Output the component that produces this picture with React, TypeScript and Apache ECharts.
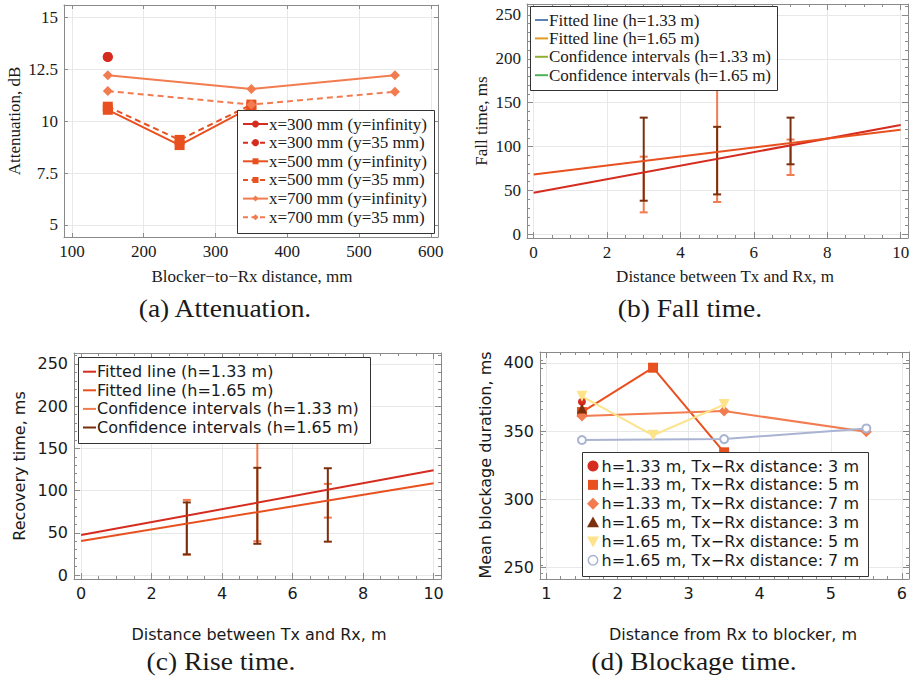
import React, { useEffect, useRef } from "react";
import * as echarts from "echarts";

// ---------- (a) Attenuation vs. blocker-to-Rx distance ----------
const attDist300 = [150];
const att300Inf = [13.1];
const att300Y35 = [13.1];
const attDist500 = [150, 250, 350];
const att500Inf = [10.55, 8.85, 10.68];
const att500Y35 = [10.7, 9.1, 10.8];
const attDist700 = [150, 350, 550];
const att700Inf = [12.22, 11.55, 12.22];
const att700Y35 = [11.45, 10.8, 11.42];
const attXTicks = [100, 200, 300, 400, 500, 600];
const attYTicks = [5, 7.5, 10, 12.5, 15];
const attLegend = [
  "x=300 mm (y=infinity)",
  "x=300 mm (y=35 mm)",
  "x=500 mm (y=infinity)",
  "x=500 mm (y=35 mm)",
  "x=700 mm (y=infinity)",
  "x=700 mm (y=35 mm)",
];

// ---------- (b) Fall time, (c) Rise time ----------
const fitDist = [0, 10];
const fall133 = [47.4, 124.5];
const fall165 = [68.3, 119.3];
const ciDist = [3, 5, 7];
const fallLo133 = [25, 36.8, 67.6];
const fallHi133 = [88.5, 200, 108];
const fallLo165 = [38.3, 45.5, 79.8];
const fallHi165 = [133, 122.5, 133];

const rise133 = [47.4, 124];
const rise165 = [40.3, 108.7];
const riseLo133 = [24, 40, 68];
const riseHi133 = [89, 200, 108];
const riseLo165 = [24.5, 37, 39.5];
const riseHi165 = [86, 127, 126.5];

const distTicks = [0, 2, 4, 6, 8, 10];
const timeTicks = [0, 50, 100, 150, 200, 250];
const timeLegend = [
  "Fitted line (h=1.33 m)",
  "Fitted line (h=1.65 m)",
  "Confidence intervals (h=1.33 m)",
  "Confidence intervals (h=1.65 m)",
];

// ---------- (d) Mean blockage duration ----------
const blk133d3X = [1.5];
const blk133d3 = [371.5];
const blk133d5X = [1.5, 2.5, 3.5];
const blk133d5 = [364, 396.5, 334.5];
const blk133d7X = [1.5, 3.5, 5.5];
const blk133d7 = [361.2, 364.7, 349.5];
const blk165d3X = [1.5];
const blk165d3 = [366.6];
const blk165d5X = [1.5, 2.5, 3.5];
const blk165d5 = [375.5, 347, 369.5];
const blk165d7X = [1.5, 3.5, 5.5];
const blk165d7 = [343.5, 344.2, 352];
const blkXTicks = [1, 2, 3, 4, 5, 6];
const blkYTicks = [250, 300, 350, 400];
const blkLegend = [
  "h=1.33 m, Tx\u2212Rx distance: 3 m",
  "h=1.33 m, Tx\u2212Rx distance: 5 m",
  "h=1.33 m, Tx\u2212Rx distance: 7 m",
  "h=1.65 m, Tx\u2212Rx distance: 3 m",
  "h=1.65 m, Tx\u2212Rx distance: 5 m",
  "h=1.65 m, Tx\u2212Rx distance: 7 m",
];

// ---------- titles ----------
const xTitles = [
  "Blocker\u2212to\u2212Rx distance, mm",
  "Distance between Tx and Rx, m",
  "Distance between Tx and Rx, m",
  "Distance from Rx to blocker, m",
];
const yTitles = ["Attenuation, dB", "Fall time, ms", "Recovery time, ms", "Mean blockage duration, ms"];
const captions = ["(a) Attenuation.", "(b) Fall time.", "(c) Rise time.", "(d) Blockage time."];

// ---------- styling ----------
const RED = "#d52c1f";
const ORANGE = "#e9501f";
const SALMON = "#f27b50";
const BROWN = "#7b2f0c";
const YELLOW = "#fde38a";
const GRAYBLUE = "#aab4d2";
const FRAME = "#8a8a8a";
const GRIDLINE = "#e8e8e8";
const TEXT = "#1a1a1a";
const SERIF = '"Liberation Serif", "Times New Roman", serif';
const SANS = '"DejaVu Sans", sans-serif';

type Box = { left: number; top: number; width: number; height: number };
const grids: Box[] = [
  { left: 64, top: 5, width: 374, height: 232 },
  { left: 527, top: 4, width: 381, height: 234 },
  { left: 74, top: 353, width: 367, height: 226 },
  { left: 540, top: 352, width: 369, height: 227 },
];

function axes(
  dim: "x" | "y",
  grid: number,
  min: number,
  max: number,
  ticks: number[],
  minor: number,
  font: string,
  size: number,
  tickLen: number
) {
  const common: any = {
    type: "value",
    gridIndex: grid,
    min,
    max,
    axisLine: { show: true, onZero: false, lineStyle: { color: FRAME, width: 1 } },
    axisTick: { show: true, inside: true, length: tickLen, customValues: ticks, lineStyle: { color: FRAME } },
    minorTick: { show: minor > 0, splitNumber: minor > 0 ? minor : 5, length: 3, lineStyle: { color: FRAME } },
    minorSplitLine: { show: false },
  };
  const main = {
    ...common,
    position: dim === "x" ? "bottom" : "left",
    axisLabel: {
      show: true,
      customValues: ticks,
      color: TEXT,
      fontFamily: font,
      fontSize: size,
      margin: 6,
      formatter: (v: number) => String(v),
    },
    splitLine: { show: true, lineStyle: { color: GRIDLINE, width: 1 } },
  };
  const mirror = {
    ...common,
    position: dim === "x" ? "top" : "right",
    axisLabel: { show: false },
    splitLine: { show: false },
  };
  return [main, mirror];
}

function pts(xs: number[], ys: number[]) {
  return xs.map((x, i) => [x, ys[i]]);
}

function line(
  g: number,
  name: string,
  xs: number[],
  ys: number[],
  color: string,
  symbol: string,
  size: number,
  dashed = false,
  rotate = 0
) {
  return {
    name,
    type: "line",
    xAxisIndex: 2 * g,
    yAxisIndex: 2 * g,
    data: pts(xs, ys),
    symbol,
    symbolSize: size,
    symbolRotate: rotate,
    showSymbol: symbol !== "none",
    lineStyle: { color, width: 2, type: dashed ? [6, 4] : "solid" },
    itemStyle: symbol === "emptyCircle" ? { color, borderWidth: 1.5 } : { color },
    emphasis: { disabled: true },
  };
}

function errorBars(g: number, name: string, xs: number[], lo: number[], hi: number[], color: string) {
  return {
    name,
    type: "custom",
    xAxisIndex: 2 * g,
    yAxisIndex: 2 * g,
    clip: true,
    data: xs.map((x, i) => [x, lo[i], hi[i]]),
    encode: { x: 0, y: [1, 2] },
    renderItem: (_p: any, api: any) => {
      const x = api.value(0);
      const a = api.coord([x, api.value(1)]);
      const b = api.coord([x, api.value(2)]);
      const w = 4;
      const style = { stroke: color, lineWidth: 2, fill: null };
      return {
        type: "group",
        children: [
          { type: "line", shape: { x1: a[0], y1: a[1], x2: b[0], y2: b[1] }, style },
          { type: "line", shape: { x1: a[0] - w, y1: a[1], x2: a[0] + w, y2: a[1] }, style },
          { type: "line", shape: { x1: b[0] - w, y1: b[1], x2: b[0] + w, y2: b[1] }, style },
        ],
      };
    },
  };
}

function marker(kind: string, cx: number, cy: number, s: number, color: string): any {
  const h = s / 2;
  const base = { z: 101, silent: true };
  switch (kind) {
    case "circle":
      return { ...base, type: "circle", shape: { cx, cy, r: h }, style: { fill: color } };
    case "rect":
      return { ...base, type: "rect", shape: { x: cx - h, y: cy - h, width: s, height: s }, style: { fill: color } };
    case "diamond":
      return {
        ...base,
        type: "polygon",
        shape: { points: [[cx, cy - h], [cx + h, cy], [cx, cy + h], [cx - h, cy]] },
        style: { fill: color },
      };
    case "triangle":
      return {
        ...base,
        type: "polygon",
        shape: { points: [[cx, cy - h], [cx + h, cy + h * 0.8], [cx - h, cy + h * 0.8]] },
        style: { fill: color },
      };
    case "triangleDown":
      return {
        ...base,
        type: "polygon",
        shape: { points: [[cx - h, cy - h * 0.8], [cx + h, cy - h * 0.8], [cx, cy + h]] },
        style: { fill: color },
      };
    default:
      return {
        ...base,
        type: "circle",
        shape: { cx, cy, r: h - 0.75 },
        style: { fill: "#fff", stroke: color, lineWidth: 1.5 },
      };
  }
}

type Entry = { text: string; color: string; dashed?: boolean; mark?: string; markSize?: number; line?: boolean };

function legendBox(
  box: { x: number; y: number; w: number; h: number },
  firstY: number,
  step: number,
  lineX: [number, number] | null,
  markX: number,
  textX: number,
  font: string,
  size: number,
  entries: Entry[]
) {
  const els: any[] = [
    {
      type: "rect",
      z: 100,
      silent: true,
      shape: { x: box.x + 0.5, y: box.y + 0.5, width: box.w, height: box.h },
      style: { fill: "#ffffff", stroke: "#333333", lineWidth: 1 },
    },
  ];
  entries.forEach((e, i) => {
    const y = firstY + i * step;
    if (lineX && e.line !== false) {
      els.push({
        type: "line",
        z: 101,
        silent: true,
        shape: { x1: lineX[0], y1: y, x2: lineX[1], y2: y },
        style: { stroke: e.color, lineWidth: 2, lineDash: e.dashed ? [5, 3.5] : null },
      });
    }
    if (e.mark) els.push(marker(e.mark, markX, y, e.markSize || 7, e.color));
    els.push({
      type: "text",
      z: 101,
      silent: true,
      x: textX,
      y,
      style: { text: e.text, fill: TEXT, fontFamily: font, fontSize: size, align: "left", verticalAlign: "middle" },
    });
  });
  return els;
}

function label(text: string, x: number, y: number, font: string, size: number, rotate = 0, scaleX = 1): any {
  return {
    type: "text",
    silent: true,
    x,
    y,
    rotation: rotate,
    scaleX,
    style: { text, fill: TEXT, fontFamily: font, fontSize: size, align: "center", verticalAlign: "middle" },
  };
}

export default function App() {
  const ref = useRef<HTMLDivElement>(null);

  useEffect(() => {
    if (!ref.current) return;
    const chart = echarts.init(ref.current, null, { renderer: "svg" });

    const xAxis = [
      ...axes("x", 0, 89, 610, attXTicks, 0, SERIF, 17, 4),
      ...axes("x", 1, -0.18, 10.2, distTicks, 4, SERIF, 17, 6),
      ...axes("x", 2, -0.2, 10.21, distTicks, 4, SANS, 16, 6),
      ...axes("x", 3, 0.91, 6.1, blkXTicks, 5, SANS, 16, 6),
    ];
    const yAxis = [
      ...axes("y", 0, 4.42, 15.6, attYTicks, 0, SERIF, 17, 4),
      ...axes("y", 1, -4.2, 262.5, timeTicks, 5, SERIF, 17, 6),
      ...axes("y", 2, -4.7, 263, timeTicks, 5, SANS, 16, 6),
      ...axes("y", 3, 241.7, 408, blkYTicks, 5, SANS, 16, 6),
    ];

    const series: any[] = [
      // (a)
      line(0, attLegend[0], attDist300, att300Inf, RED, "circle", 10),
      line(0, attLegend[1], attDist300, att300Y35, RED, "circle", 10, true),
      line(0, attLegend[2], attDist500, att500Inf, ORANGE, "rect", 10),
      line(0, attLegend[3], attDist500, att500Y35, ORANGE, "rect", 10, true),
      line(0, attLegend[4], attDist700, att700Inf, SALMON, "diamond", 10),
      line(0, attLegend[5], attDist700, att700Y35, SALMON, "diamond", 10, true),
      // (b)
      errorBars(1, timeLegend[2], ciDist, fallLo133, fallHi133, SALMON),
      errorBars(1, timeLegend[3], ciDist, fallLo165, fallHi165, BROWN),
      line(1, timeLegend[0], fitDist, fall133, RED, "none", 0),
      line(1, timeLegend[1], fitDist, fall165, ORANGE, "none", 0),
      // (c)
      errorBars(2, timeLegend[2], ciDist, riseLo133, riseHi133, SALMON),
      errorBars(2, timeLegend[3], ciDist, riseLo165, riseHi165, BROWN),
      line(2, timeLegend[0], fitDist, rise133, RED, "none", 0),
      line(2, timeLegend[1], fitDist, rise165, ORANGE, "none", 0),
      // (d)
      line(3, blkLegend[0], blk133d3X, blk133d3, RED, "circle", 8),
      line(3, blkLegend[1], blk133d5X, blk133d5, ORANGE, "rect", 10),
      line(3, blkLegend[2], blk133d7X, blk133d7, SALMON, "diamond", 11),
      line(3, blkLegend[3], blk165d3X, blk165d3, BROWN, "triangle", 10),
      line(3, blkLegend[4], blk165d5X, blk165d5, YELLOW, "triangle", 11, false, 180),
      line(3, blkLegend[5], blk165d7X, blk165d7, GRAYBLUE, "emptyCircle", 8),
    ];

    const graphic: any[] = [
      // legend (a)
      ...legendBox({ x: 237, y: 110, w: 197, h: 123 }, 124, 18.65, [243, 268], 255.5, 269, SERIF, 17, [
        { text: attLegend[0], color: RED, mark: "circle", markSize: 7 },
        { text: attLegend[1], color: RED, mark: "circle", markSize: 7, dashed: true },
        { text: attLegend[2], color: ORANGE, mark: "rect", markSize: 6 },
        { text: attLegend[3], color: ORANGE, mark: "rect", markSize: 6, dashed: true },
        { text: attLegend[4], color: SALMON, mark: "diamond", markSize: 6 },
        { text: attLegend[5], color: SALMON, mark: "diamond", markSize: 6, dashed: true },
      ]),
      // legend (b)
      ...legendBox({ x: 530, y: 6, w: 247, h: 84 }, 20, 18.4, [535, 548], 0, 549, SERIF, 17, [
        { text: timeLegend[0], color: "#5e81b5" },
        { text: timeLegend[1], color: "#e19c24" },
        { text: timeLegend[2], color: "#8fb032" },
        { text: timeLegend[3], color: "#4db35a" },
      ]),
      // legend (c)
      ...legendBox({ x: 78, y: 357, w: 292, h: 86 }, 371.7, 18.6, [83, 96], 0, 97, SANS, 16, [
        { text: timeLegend[0], color: RED },
        { text: timeLegend[1], color: ORANGE },
        { text: timeLegend[2], color: SALMON },
        { text: timeLegend[3], color: BROWN },
      ]),
      // legend (d)
      ...legendBox({ x: 582, y: 452, w: 286, h: 124 }, 466, 18.85, null, 593, 601.5, SANS, 16, [
        { text: blkLegend[0], color: RED, mark: "circle", markSize: 11 },
        { text: blkLegend[1], color: ORANGE, mark: "rect", markSize: 10 },
        { text: blkLegend[2], color: SALMON, mark: "diamond", markSize: 12 },
        { text: blkLegend[3], color: BROWN, mark: "triangle", markSize: 12 },
        { text: blkLegend[4], color: YELLOW, mark: "triangleDown", markSize: 12 },
        { text: blkLegend[5], color: GRAYBLUE, mark: "emptyCircle", markSize: 11 },
      ]),
      // axis titles
      label(xTitles[0], 252, 276, SERIF, 17),
      label(xTitles[1], 725, 276, SERIF, 17),
      label(xTitles[2], 259, 634, SANS, 16),
      label(xTitles[3], 733, 634, SANS, 16),
      label(yTitles[0], 14, 121, SERIF, 17, Math.PI / 2),
      label(yTitles[1], 481, 121, SERIF, 17, Math.PI / 2),
      label(yTitles[2], 19, 466, SANS, 16, Math.PI / 2),
      label(yTitles[3], 485, 465, SANS, 16, Math.PI / 2),
      // captions
      label(captions[0], 225, 309, SERIF, 25, 0, 1.1),
      label(captions[1], 690, 309, SERIF, 25, 0, 1.1),
      label(captions[2], 221, 662, SERIF, 25, 0, 1.1),
      label(captions[3], 694, 662, SERIF, 25, 0, 1.1),
    ];

    chart.setOption({
      animation: false,
      backgroundColor: "#ffffff",
      grid: grids.map((g) => ({ ...g, containLabel: false, outerBoundsMode: "none" })),
      xAxis,
      yAxis,
      series,
      graphic: { elements: graphic },
    });

    return () => chart.dispose();
  }, []);

  return (
    <div
      ref={ref}
      style={{ position: "fixed", left: 0, top: 0, width: 916, height: 680, background: "#fff" }}
    />
  );
}
